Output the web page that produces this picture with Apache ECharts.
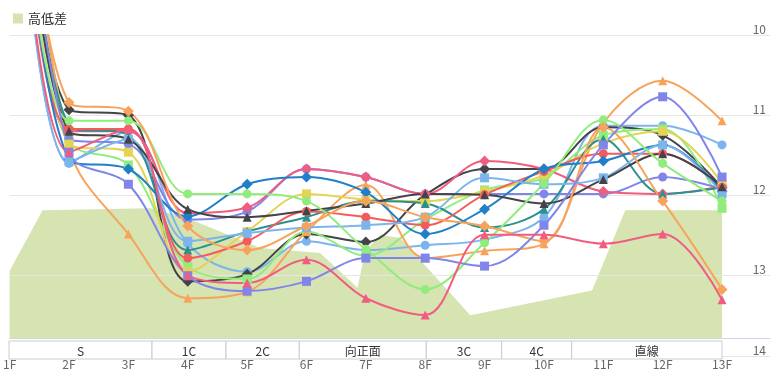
<!DOCTYPE html>
<html><head><meta charset="utf-8">
<script src="https://cdn.jsdelivr.net/npm/echarts@6/dist/echarts.min.js"></script>
<style>html,body{margin:0;padding:0;background:#fff}#c{width:776px;height:370px}</style>
</head><body><div id="c"></div>
<script>
const xLabels = ['1F','2F','3F','4F','5F','6F','7F','8F','9F','10F','11F','12F','13F'];
const yTicks = [10, 11, 12, 13, 14];

const s0  = [6.2, 11.60, 11.20, 12.60, 12.95, 12.57, 12.68, 12.62, 12.55, 12.27, 11.13, 11.13, 11.37];
const s1  = [5.9, 10.93, 11.00, 13.07, 12.98, 12.48, 12.58, 11.99, 11.67, 11.67, 11.15, 11.25, 11.90];
const s2  = [6.1, 11.30, 11.62, 12.88, 13.04, 12.45, 12.75, 12.30, 11.93, 11.78, 11.25, 11.17, 12.16];
const s3  = [6.1, 11.40, 12.48, 13.28, 13.20, 12.45, 11.87, 12.78, 12.69, 12.60, 11.10, 10.57, 11.07];
const s4  = [6.1, 11.30, 11.36, 12.30, 12.20, 11.67, 11.77, 11.98, 11.98, 11.98, 11.98, 11.77, 11.92];
const s5  = [6.1, 11.20, 11.20, 12.22, 12.15, 11.67, 11.77, 11.98, 11.57, 11.67, 11.95, 11.98, 11.88];
const s6  = [6.1, 11.36, 11.46, 12.95, 12.45, 11.98, 12.05, 12.07, 11.95, 11.75, 11.35, 11.20, 11.85];
const s7  = [6.0, 11.13, 11.25, 12.68, 12.45, 12.27, 12.07, 12.10, 12.40, 12.17, 11.30, 11.98, 11.90];
const s8  = [6.0, 11.17, 11.17, 12.78, 12.57, 12.20, 12.27, 12.37, 11.99, 11.70, 11.48, 11.48, 11.90];
const s9  = [6.2, 11.55, 11.67, 12.26, 11.86, 11.77, 11.96, 12.48, 12.17, 11.67, 11.57, 11.37, 11.95];
const s10 = [6.3, 11.58, 11.30, 12.57, 12.47, 12.40, 12.37, 12.27, 11.78, 11.86, 11.78, 11.37, 11.98];
const s11 = [5.9, 11.20, 11.30, 12.17, 12.27, 12.19, 12.10, 11.98, 11.99, 12.10, 11.80, 11.48, 11.89];
const s12 = [6.0, 11.07, 11.07, 11.98, 11.98, 12.07, 12.67, 13.17, 12.59, 11.85, 11.06, 11.60, 12.07];
const s13 = [5.8, 10.84, 10.95, 12.38, 12.68, 12.38, 12.07, 12.27, 12.38, 12.57, 11.15, 12.07, 13.17];
const s14 = [6.3, 11.46, 11.86, 13.00, 13.19, 13.07, 12.78, 12.78, 12.88, 12.37, 11.37, 10.77, 11.77];
const s15 = [6.3, 11.46, 11.17, 12.99, 13.09, 12.80, 13.28, 13.49, 12.49, 12.49, 12.60, 12.48, 13.30];
const lapSeries = [s0,s1,s2,s3,s4,s5,s6,s7,s8,s9,s10,s11,s12,s13,s14,s15];

const elevX = [0, 0.555, 2.37, 3.0, 4.22, 5.23, 5.86, 5.99, 6.24, 6.58, 7.76, 9.81, 10.37, 12];
const elevY = [3.78, 7.17, 7.28, 6.72, 5.06, 4.78, 2.83, 4.89, 5.78, 5.61, 1.28, 2.67, 7.17, 7.17];

const segNames = ['S','1C','2C','向正面','3C','4C','直線'];
const segStart = [0, 2.407, 3.652, 4.886, 7.023, 8.292, 9.47];
const segEnd   = [2.407, 3.652, 4.886, 7.023, 8.292, 9.47, 12];

const palette = ['#7cb5ec','#434348','#90ed7d','#f7a35c','#8085e9','#f15c80','#e4d354','#2b908f','#f45b5b','#1f7fc8'];
const symbols = ['circle','diamond','rect','triangle'];
const FONT = '"Noto Sans CJK JP", "Noto Sans", sans-serif';

const chart = echarts.init(document.getElementById('c'));
const series = [];
series.push({
  name: '高低差', type: 'line', xAxisIndex: 0, yAxisIndex: 1,
  data: elevX.map((x, i) => [x, elevY[i]]),
  symbol: 'none', lineStyle: {width: 0}, smooth: false,
  areaStyle: {color: '#d5e4b1', opacity: 1}, itemStyle: {color: '#d5e4b1'},
  z: 1, silent: true
});
lapSeries.forEach((arr, i) => {
  const c = palette[i % palette.length];
  series.push({
    name: 'h' + i, type: 'line', xAxisIndex: 0, yAxisIndex: 0,
    data: arr.map((v, j) => [j, v]),
    smooth: 0.35, symbol: symbols[i % 4], symbolSize: symbols[i % 4] === 'diamond' ? 11 : 9,
    lineStyle: {width: 2, color: c}, itemStyle: {color: c},
    z: 4, clip: true
  });
});
series.push({
  type: 'custom', xAxisIndex: 1, yAxisIndex: 2, z: 6,
  data: segNames.map((n, i) => [segStart[i], segEnd[i], n]),
  renderItem: function (params, api) {
    const p0 = api.coord([api.value(0), 1]);
    const p1 = api.coord([api.value(1), 0]);
    return {
      type: 'group',
      children: [{
        type: 'rect',
        shape: {x: p0[0], y: p0[1], width: p1[0] - p0[0], height: p1[1] - p0[1]},
        style: {fill: '#fff', stroke: '#cccccc', lineWidth: 1}
      }, {
        type: 'text',
        style: {text: api.value(2), x: (p0[0] + p1[0]) / 2, y: (p0[1] + p1[1]) / 2 + 1,
          align: 'center', verticalAlign: 'middle', fill: '#333', font: '12px ' + FONT}
      }]
    };
  }
});

chart.setOption({
  animation: false,
  textStyle: {fontFamily: FONT},
  legend: {data: ['高低差'], left: 8, top: 7, itemWidth: 10, itemHeight: 10, icon: 'rect',
    textStyle: {fontSize: 13, color: '#333', fontFamily: FONT}},
  grid: [
    {left: 9, right: 6, top: 35, bottom: 11},
    {left: 9, width: 713, top: 341, height: 18}
  ],
  xAxis: [
    {type: 'value', gridIndex: 0, min: 0, max: 12.808, interval: 1,
      axisLine: {show: true, lineStyle: {color: '#ccd6eb'}},
      axisTick: {show: false}, splitLine: {show: false},
      axisLabel: {margin: 2, color: '#666', fontSize: 12, fontFamily: FONT,
        formatter: v => (Number.isInteger(v) && xLabels[v]) ? xLabels[v] : ''}},
    {type: 'value', gridIndex: 1, min: 0, max: 12, show: false}
  ],
  yAxis: [
    {type: 'value', gridIndex: 0, inverse: true, min: yTicks[0], max: yTicks[yTicks.length - 1], interval: 1,
      position: 'right', z: 3,
      axisLine: {show: false}, axisTick: {show: false},
      splitLine: {lineStyle: {color: '#e6e6e6'}},
      axisLabel: {inside: true, margin: 4, verticalAlign: 'bottom', color: '#666', fontSize: 12, fontFamily: FONT}},
    {type: 'value', gridIndex: 0, min: -1, max: 17, show: false},
    {type: 'value', gridIndex: 1, min: 0, max: 1, show: false}
  ],
  series: series
});
</script></body></html>
